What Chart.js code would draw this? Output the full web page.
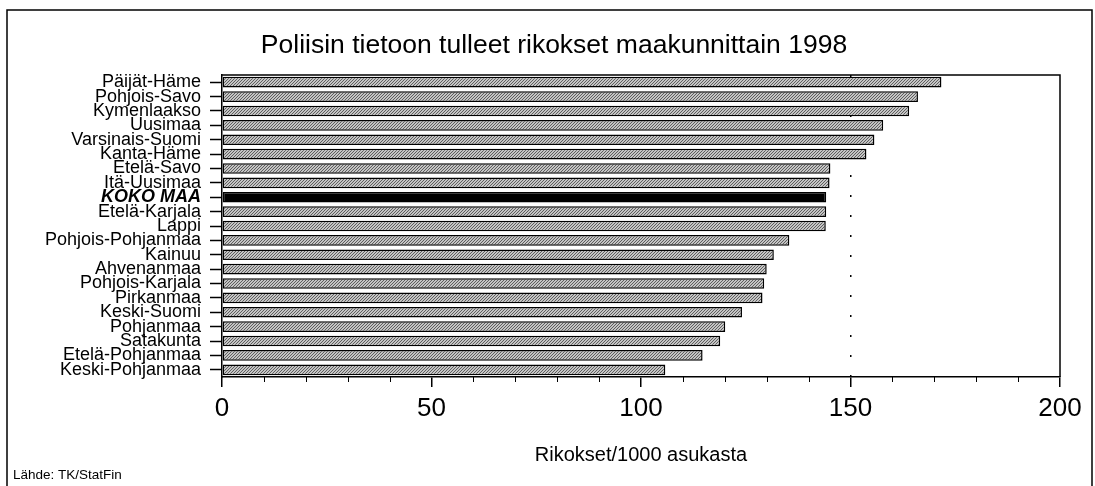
<!DOCTYPE html>
<html>
<head>
<meta charset="utf-8">
<script src="https://cdn.jsdelivr.net/npm/chart.js@4/dist/chart.umd.min.js"></script>
<style>
  html, body { margin: 0; padding: 0; background: #fff; }
  #wrap { width: 1095px; height: 486px; position: relative; }
</style>
</head>
<body>
<div id="wrap"><canvas id="chart" width="1095" height="486"></canvas></div>
<script>
// maakunnat, suurimmasta pienimpään
const regions = [
  'Päijät-Häme', 'Pohjois-Savo', 'Kymenlaakso', 'Uusimaa', 'Varsinais-Suomi',
  'Kanta-Häme', 'Etelä-Savo', 'Itä-Uusimaa', 'KOKO MAA', 'Etelä-Karjala',
  'Lappi', 'Pohjois-Pohjanmaa', 'Kainuu', 'Ahvenanmaa', 'Pohjois-Karjala',
  'Pirkanmaa', 'Keski-Suomi', 'Pohjanmaa', 'Satakunta', 'Etelä-Pohjanmaa',
  'Keski-Pohjanmaa'
];
const crimesPer1000 = [
  171.7, 166.1, 164.0, 157.8, 155.7,
  153.8, 145.2, 145.0, 144.2, 144.2,
  144.1, 135.4, 131.7, 130.0, 129.4,
  129.0, 124.1, 120.1, 118.9, 114.7,
  105.8
];
const totalLabel = 'KOKO MAA';
const xTickLabels = [0, 50, 100, 150, 200];
const refLine = 150;

const titleText = 'Poliisin tietoon tulleet rikokset maakunnittain 1998';
const axisText = 'Rikokset/1000 asukasta';
const sourceText = 'Lähde: TK/StatFin';

const FONT = "'Liberation Sans', Arial, sans-serif";

// rasteri kuten skannatussa kuvassa
function makeDots() {
  const c = document.createElement('canvas');
  c.width = 3; c.height = 3;
  const g = c.getContext('2d');
  g.fillStyle = '#c4c4c4';
  g.fillRect(0, 0, 3, 3);
  g.fillStyle = '#5e5e5e';
  g.fillRect(0, 0, 1, 1);
  g.fillRect(1, 2, 1, 1);
  g.fillRect(2, 1, 1, 1);
  return g.createPattern(c, 'repeat');
}
const dots = makeDots();
const barColors = regions.map(r => r === totalLabel ? '#000' : dots);

const decorations = {
  id: 'decorations',
  afterDraw(chart) {
    const { ctx, chartArea: a } = chart;
    const x = chart.scales.x;
    ctx.save();
    ctx.strokeStyle = '#000';

    // pienet välimerkit 10 välein
    ctx.lineWidth = 1;
    x.ticks.forEach(t => {
      if (xTickLabels.includes(t.value)) return;
      const px = Math.round(x.getPixelForValue(t.value)) + 0.5;
      ctx.beginPath();
      ctx.moveTo(px, a.bottom);
      ctx.lineTo(px, a.bottom + 5);
      ctx.stroke();
    });

    // kuvaajan kehys ylhäällä ja oikealla
    ctx.lineWidth = 1.5;
    ctx.beginPath();
    ctx.moveTo(a.left, a.top);
    ctx.lineTo(a.right, a.top);
    ctx.lineTo(a.right, a.bottom);
    ctx.stroke();

    // ulkokehys
    ctx.lineWidth = 1.5;
    ctx.beginPath();
    ctx.moveTo(7, chart.height);
    ctx.lineTo(7, 10);
    ctx.lineTo(1092, 10);
    ctx.lineTo(1092, chart.height);
    ctx.stroke();

    ctx.fillStyle = '#000';
    ctx.textAlign = 'center';
    ctx.textBaseline = 'alphabetic';
    ctx.font = '26.5px ' + FONT;
    ctx.fillText(titleText, 554, 53);

    ctx.textAlign = 'left';
    ctx.font = '13.5px ' + FONT;
    ctx.fillText(sourceText, 13, 479);
    ctx.restore();
  }
};

new Chart(document.getElementById('chart'), {
  type: 'bar',
  data: {
    labels: regions,
    datasets: [{
      data: crimesPer1000,
      backgroundColor: barColors,
      borderColor: '#000',
      borderWidth: 1.5,
      borderSkipped: false,
      barPercentage: 0.74,
      categoryPercentage: 1.0
    }]
  },
  options: {
    indexAxis: 'y',
    responsive: false,
    animation: false,
    layout: { padding: { top: 75, right: 35, left: 0, bottom: 0 } },
    plugins: {
      legend: { display: false },
      tooltip: { enabled: false },
      title: { display: false }
    },
    scales: {
      x: {
        min: 0,
        max: 200,
        afterFit: s => { s.height = 109; },
        ticks: {
          stepSize: 10,
          autoSkip: false,
          maxRotation: 0,
          padding: 6,
          color: '#000',
          font: { family: FONT, size: 26 },
          callback: v => xTickLabels.includes(v) ? String(v) : ''
        },
        grid: {
          drawOnChartArea: true,
          color: c => c.tick && c.tick.value === refLine ? '#000' : 'rgba(0,0,0,0)',
          lineWidth: 1.5,
          tickColor: c => c.tick && xTickLabels.includes(c.tick.value) ? '#000' : 'rgba(0,0,0,0)',
          tickLength: 10,
          tickWidth: 1.5
        },
        border: { display: true, color: '#000', width: 1.5, dash: [2, 18] },
        title: {
          display: true,
          text: axisText,
          color: '#000',
          font: { family: FONT, size: 20 },
          padding: { top: 0, bottom: 19 }
        }
      },
      y: {
        afterFit: s => { s.width = 222; },
        ticks: {
          autoSkip: false,
          padding: 9,
          color: '#000',
          font: c => regions[c.index] === totalLabel
            ? { family: FONT, size: 18, weight: 'bold', style: 'italic' }
            : { family: FONT, size: 18 }
        },
        grid: {
          offset: false,
          drawOnChartArea: false,
          tickColor: '#000',
          tickLength: 12,
          tickWidth: 1.5
        },
        border: { display: true, color: '#000', width: 1.5 }
      }
    }
  },
  plugins: [decorations]
});
</script>
</body>
</html>
